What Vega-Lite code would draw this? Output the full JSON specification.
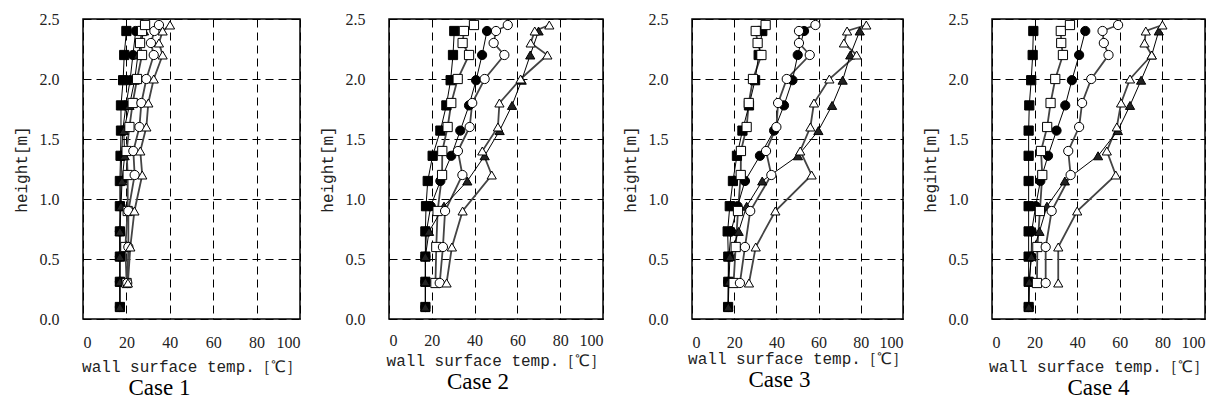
{
  "$schema": "https://vega.github.io/schema/vega-lite/v6.json",
  "background": "white",
  "padding": {"left": 12, "top": 10, "right": 5, "bottom": 5},
  "bounds": "flush",
  "spacing": 89,
  "config": {
    "view": {"stroke": "black", "strokeWidth": 1.5},
    "axis": {
      "ticks": false, "domain": false,
      "grid": true, "gridColor": "black", "gridDash": [8, 5], "gridWidth": 1, "gridOpacity": 1,
      "labelFont": "Liberation Serif", "labelFontSize": 16, "labelColor": "#222",
      "titleFont": "Liberation Mono", "titleFontSize": 16, "titleFontWeight": "normal", "titleColor": "#222"
    },
    "axisX": {"labelPadding": 15, "titlePadding": 8},
    "axisY": {"labelPadding": 24, "titlePadding": 10},
    "title": {"font": "Liberation Serif", "fontSize": 23, "fontWeight": "normal", "color": "black", "orient": "bottom", "offset": 3}
  },
  "datasets": {
    "d": [
      {"c":1,"s":"fs","h":0.1,"t":17},{"c":1,"s":"fs","h":0.31,"t":17},{"c":1,"s":"fs","h":0.52,"t":17},{"c":1,"s":"fs","h":0.73,"t":17},{"c":1,"s":"fs","h":0.94,"t":17},{"c":1,"s":"fs","h":1.15,"t":17},{"c":1,"s":"fs","h":1.36,"t":17.3},{"c":1,"s":"fs","h":1.57,"t":17.5},{"c":1,"s":"fs","h":1.78,"t":17.5},{"c":1,"s":"fs","h":1.99,"t":18.5},{"c":1,"s":"fs","h":2.2,"t":19},{"c":1,"s":"fs","h":2.4,"t":20},
      {"c":1,"s":"fc","h":0.1,"t":17},{"c":1,"s":"fc","h":0.31,"t":17},{"c":1,"s":"fc","h":0.52,"t":17},{"c":1,"s":"fc","h":0.73,"t":17},{"c":1,"s":"fc","h":0.94,"t":17.3},{"c":1,"s":"fc","h":1.15,"t":17.5},{"c":1,"s":"fc","h":1.36,"t":17.8},{"c":1,"s":"fc","h":1.57,"t":18.3},{"c":1,"s":"fc","h":1.78,"t":19.8},{"c":1,"s":"fc","h":1.99,"t":21.7},{"c":1,"s":"fc","h":2.2,"t":23},{"c":1,"s":"fc","h":2.4,"t":24.3},
      {"c":1,"s":"ft","h":0.1,"t":17},{"c":1,"s":"ft","h":0.31,"t":17},{"c":1,"s":"ft","h":0.52,"t":17},{"c":1,"s":"ft","h":0.73,"t":17},{"c":1,"s":"ft","h":0.94,"t":17.5},{"c":1,"s":"ft","h":1.15,"t":18},{"c":1,"s":"ft","h":1.36,"t":19.2},{"c":1,"s":"ft","h":1.57,"t":18.8},{"c":1,"s":"ft","h":1.78,"t":21.4},{"c":1,"s":"ft","h":1.99,"t":23.8},{"c":1,"s":"ft","h":2.2,"t":25.3},{"c":1,"s":"ft","h":2.4,"t":28.1},
      {"c":1,"s":"os","h":0.3,"t":20.1},{"c":1,"s":"os","h":0.6,"t":19.5},{"c":1,"s":"os","h":0.9,"t":20.6},{"c":1,"s":"os","h":1.2,"t":20.6},{"c":1,"s":"os","h":1.4,"t":20.1},{"c":1,"s":"os","h":1.6,"t":21.4},{"c":1,"s":"os","h":1.8,"t":22.9},{"c":1,"s":"os","h":2.0,"t":24.9},{"c":1,"s":"os","h":2.2,"t":27.2},{"c":1,"s":"os","h":2.3,"t":26.3},{"c":1,"s":"os","h":2.4,"t":27.2},{"c":1,"s":"os","h":2.45,"t":28.6},
      {"c":1,"s":"oc","h":0.3,"t":20.4},{"c":1,"s":"oc","h":0.6,"t":20.9},{"c":1,"s":"oc","h":0.9,"t":20.9},{"c":1,"s":"oc","h":1.2,"t":23.8},{"c":1,"s":"oc","h":1.4,"t":23.2},{"c":1,"s":"oc","h":1.6,"t":26},{"c":1,"s":"oc","h":1.8,"t":26.9},{"c":1,"s":"oc","h":2.0,"t":29.2},{"c":1,"s":"oc","h":2.2,"t":32.6},{"c":1,"s":"oc","h":2.3,"t":31.3},{"c":1,"s":"oc","h":2.4,"t":32.9},{"c":1,"s":"oc","h":2.45,"t":35},
      {"c":1,"s":"ot","h":0.3,"t":20.7},{"c":1,"s":"ot","h":0.6,"t":21.8},{"c":1,"s":"ot","h":0.9,"t":23.7},{"c":1,"s":"ot","h":1.2,"t":27.3},{"c":1,"s":"ot","h":1.4,"t":26.4},{"c":1,"s":"ot","h":1.6,"t":29.2},{"c":1,"s":"ot","h":1.8,"t":30.1},{"c":1,"s":"ot","h":2.0,"t":32.6},{"c":1,"s":"ot","h":2.2,"t":36.7},{"c":1,"s":"ot","h":2.3,"t":35},{"c":1,"s":"ot","h":2.4,"t":36.7},{"c":1,"s":"ot","h":2.45,"t":40.1},

      {"c":2,"s":"fs","h":0.1,"t":17},{"c":2,"s":"fs","h":0.31,"t":17},{"c":2,"s":"fs","h":0.52,"t":17},{"c":2,"s":"fs","h":0.73,"t":17},{"c":2,"s":"fs","h":0.94,"t":17.3},{"c":2,"s":"fs","h":1.15,"t":18.1},{"c":2,"s":"fs","h":1.36,"t":20.4},{"c":2,"s":"fs","h":1.57,"t":24},{"c":2,"s":"fs","h":1.78,"t":26.8},{"c":2,"s":"fs","h":1.99,"t":28.8},{"c":2,"s":"fs","h":2.2,"t":29.9},{"c":2,"s":"fs","h":2.4,"t":30.5},
      {"c":2,"s":"fc","h":0.1,"t":17},{"c":2,"s":"fc","h":0.31,"t":17},{"c":2,"s":"fc","h":0.52,"t":17},{"c":2,"s":"fc","h":0.73,"t":17.5},{"c":2,"s":"fc","h":0.94,"t":19.5},{"c":2,"s":"fc","h":1.15,"t":24},{"c":2,"s":"fc","h":1.36,"t":29.1},{"c":2,"s":"fc","h":1.57,"t":33.3},{"c":2,"s":"fc","h":1.78,"t":37.4},{"c":2,"s":"fc","h":1.99,"t":40.7},{"c":2,"s":"fc","h":2.2,"t":43.5},{"c":2,"s":"fc","h":2.4,"t":45.8},
      {"c":2,"s":"ft","h":0.1,"t":17},{"c":2,"s":"ft","h":0.31,"t":17},{"c":2,"s":"ft","h":0.52,"t":17},{"c":2,"s":"ft","h":0.73,"t":18.7},{"c":2,"s":"ft","h":0.94,"t":25.7},{"c":2,"s":"ft","h":1.15,"t":36.6},{"c":2,"s":"ft","h":1.36,"t":44.7},{"c":2,"s":"ft","h":1.57,"t":51.7},{"c":2,"s":"ft","h":1.78,"t":57.5},{"c":2,"s":"ft","h":1.99,"t":62},{"c":2,"s":"ft","h":2.2,"t":66},{"c":2,"s":"ft","h":2.4,"t":69.9},
      {"c":2,"s":"os","h":0.3,"t":21.7},{"c":2,"s":"os","h":0.6,"t":22.1},{"c":2,"s":"os","h":0.9,"t":22.7},{"c":2,"s":"os","h":1.2,"t":24.8},{"c":2,"s":"os","h":1.4,"t":24.9},{"c":2,"s":"os","h":1.6,"t":27.4},{"c":2,"s":"os","h":1.8,"t":29.1},{"c":2,"s":"os","h":2.0,"t":32.1},{"c":2,"s":"os","h":2.2,"t":37.4},{"c":2,"s":"os","h":2.3,"t":34.4},{"c":2,"s":"os","h":2.4,"t":35},{"c":2,"s":"os","h":2.45,"t":39.7},
      {"c":2,"s":"oc","h":0.3,"t":23.7},{"c":2,"s":"oc","h":0.6,"t":25.2},{"c":2,"s":"oc","h":0.9,"t":26.2},{"c":2,"s":"oc","h":1.2,"t":34.3},{"c":2,"s":"oc","h":1.4,"t":32.2},{"c":2,"s":"oc","h":1.6,"t":37.7},{"c":2,"s":"oc","h":1.8,"t":38.9},{"c":2,"s":"oc","h":2.0,"t":44.7},{"c":2,"s":"oc","h":2.2,"t":53.9},{"c":2,"s":"oc","h":2.3,"t":48.9},{"c":2,"s":"oc","h":2.4,"t":50},{"c":2,"s":"oc","h":2.45,"t":55.5},
      {"c":2,"s":"ot","h":0.3,"t":26.9},{"c":2,"s":"ot","h":0.6,"t":29.4},{"c":2,"s":"ot","h":0.9,"t":34.4},{"c":2,"s":"ot","h":1.2,"t":48},{"c":2,"s":"ot","h":1.4,"t":43.6},{"c":2,"s":"ot","h":1.6,"t":50.9},{"c":2,"s":"ot","h":1.8,"t":51.6},{"c":2,"s":"ot","h":2.0,"t":61.5},{"c":2,"s":"ot","h":2.2,"t":74},{"c":2,"s":"ot","h":2.3,"t":66.2},{"c":2,"s":"ot","h":2.4,"t":68.1},{"c":2,"s":"ot","h":2.45,"t":74.9},

      {"c":3,"s":"fs","h":0.1,"t":17.1},{"c":3,"s":"fs","h":0.31,"t":17.2},{"c":3,"s":"fs","h":0.52,"t":17.2},{"c":3,"s":"fs","h":0.73,"t":16.9},{"c":3,"s":"fs","h":0.94,"t":17.9},{"c":3,"s":"fs","h":1.15,"t":19.4},{"c":3,"s":"fs","h":1.36,"t":21.3},{"c":3,"s":"fs","h":1.57,"t":23.9},{"c":3,"s":"fs","h":1.78,"t":27},{"c":3,"s":"fs","h":1.99,"t":29.9},{"c":3,"s":"fs","h":2.2,"t":31.6},{"c":3,"s":"fs","h":2.4,"t":33.3},
      {"c":3,"s":"fc","h":0.1,"t":17.1},{"c":3,"s":"fc","h":0.31,"t":17.2},{"c":3,"s":"fc","h":0.52,"t":17.5},{"c":3,"s":"fc","h":0.73,"t":18.5},{"c":3,"s":"fc","h":0.94,"t":21.6},{"c":3,"s":"fc","h":1.15,"t":25.1},{"c":3,"s":"fc","h":1.36,"t":32.2},{"c":3,"s":"fc","h":1.57,"t":38.9},{"c":3,"s":"fc","h":1.78,"t":43.6},{"c":3,"s":"fc","h":1.99,"t":47.6},{"c":3,"s":"fc","h":2.2,"t":50.1},{"c":3,"s":"fc","h":2.4,"t":53.1},
      {"c":3,"s":"ft","h":0.1,"t":17.2},{"c":3,"s":"ft","h":0.31,"t":17.5},{"c":3,"s":"ft","h":0.52,"t":18},{"c":3,"s":"ft","h":0.73,"t":22.1},{"c":3,"s":"ft","h":0.94,"t":25.9},{"c":3,"s":"ft","h":1.15,"t":33.3},{"c":3,"s":"ft","h":1.36,"t":50.2},{"c":3,"s":"ft","h":1.57,"t":59.9},{"c":3,"s":"ft","h":1.78,"t":66.4},{"c":3,"s":"ft","h":1.99,"t":71.4},{"c":3,"s":"ft","h":2.2,"t":75},{"c":3,"s":"ft","h":2.4,"t":79.5},
      {"c":3,"s":"os","h":0.3,"t":19.7},{"c":3,"s":"os","h":0.6,"t":20.7},{"c":3,"s":"os","h":0.9,"t":21.8},{"c":3,"s":"os","h":1.2,"t":23.1},{"c":3,"s":"os","h":1.4,"t":23.2},{"c":3,"s":"os","h":1.6,"t":25.9},{"c":3,"s":"os","h":1.8,"t":26.9},{"c":3,"s":"os","h":2.0,"t":28.9},{"c":3,"s":"os","h":2.2,"t":32.9},{"c":3,"s":"os","h":2.3,"t":31.1},{"c":3,"s":"os","h":2.4,"t":30.2},{"c":3,"s":"os","h":2.45,"t":34.9},
      {"c":3,"s":"oc","h":0.3,"t":22.7},{"c":3,"s":"oc","h":0.6,"t":25.1},{"c":3,"s":"oc","h":0.9,"t":27.6},{"c":3,"s":"oc","h":1.2,"t":37.6},{"c":3,"s":"oc","h":1.4,"t":35.1},{"c":3,"s":"oc","h":1.6,"t":40},{"c":3,"s":"oc","h":1.8,"t":40.8},{"c":3,"s":"oc","h":2.0,"t":44.9},{"c":3,"s":"oc","h":2.2,"t":55.8},{"c":3,"s":"oc","h":2.3,"t":50.7},{"c":3,"s":"oc","h":2.4,"t":50.7},{"c":3,"s":"oc","h":2.45,"t":58.5},
      {"c":3,"s":"ot","h":0.3,"t":27},{"c":3,"s":"ot","h":0.6,"t":30.2},{"c":3,"s":"ot","h":0.9,"t":39.5},{"c":3,"s":"ot","h":1.2,"t":56.7},{"c":3,"s":"ot","h":1.4,"t":51.3},{"c":3,"s":"ot","h":1.6,"t":56.1},{"c":3,"s":"ot","h":1.8,"t":57.8},{"c":3,"s":"ot","h":2.0,"t":65.1},{"c":3,"s":"ot","h":2.2,"t":78},{"c":3,"s":"ot","h":2.3,"t":72},{"c":3,"s":"ot","h":2.4,"t":73.5},{"c":3,"s":"ot","h":2.45,"t":82.6},

      {"c":4,"s":"fs","h":0.1,"t":17.2},{"c":4,"s":"fs","h":0.31,"t":17.2},{"c":4,"s":"fs","h":0.52,"t":17.2},{"c":4,"s":"fs","h":0.73,"t":17.2},{"c":4,"s":"fs","h":0.94,"t":17.2},{"c":4,"s":"fs","h":1.15,"t":17.2},{"c":4,"s":"fs","h":1.36,"t":17.2},{"c":4,"s":"fs","h":1.57,"t":17.2},{"c":4,"s":"fs","h":1.78,"t":17.5},{"c":4,"s":"fs","h":1.99,"t":18.4},{"c":4,"s":"fs","h":2.2,"t":19.1},{"c":4,"s":"fs","h":2.4,"t":19.4},
      {"c":4,"s":"fc","h":0.1,"t":17.3},{"c":4,"s":"fc","h":0.31,"t":17.5},{"c":4,"s":"fc","h":0.52,"t":18.4},{"c":4,"s":"fc","h":0.73,"t":18.6},{"c":4,"s":"fc","h":0.94,"t":20.5},{"c":4,"s":"fc","h":1.15,"t":22.7},{"c":4,"s":"fc","h":1.36,"t":26.3},{"c":4,"s":"fc","h":1.57,"t":30.3},{"c":4,"s":"fc","h":1.78,"t":34.4},{"c":4,"s":"fc","h":1.99,"t":37.5},{"c":4,"s":"fc","h":2.2,"t":40.9},{"c":4,"s":"fc","h":2.4,"t":43.8},
      {"c":4,"s":"ft","h":0.1,"t":17.3},{"c":4,"s":"ft","h":0.31,"t":17.5},{"c":4,"s":"ft","h":0.52,"t":18.5},{"c":4,"s":"ft","h":0.73,"t":22.3},{"c":4,"s":"ft","h":0.94,"t":25.8},{"c":4,"s":"ft","h":1.15,"t":34.2},{"c":4,"s":"ft","h":1.36,"t":49.8},{"c":4,"s":"ft","h":1.57,"t":59.1},{"c":4,"s":"ft","h":1.78,"t":64.8},{"c":4,"s":"ft","h":1.99,"t":70},{"c":4,"s":"ft","h":2.2,"t":75},{"c":4,"s":"ft","h":2.4,"t":78.3},
      {"c":4,"s":"os","h":0.3,"t":21.1},{"c":4,"s":"os","h":0.6,"t":21.3},{"c":4,"s":"os","h":0.9,"t":22.5},{"c":4,"s":"os","h":1.2,"t":23.6},{"c":4,"s":"os","h":1.4,"t":23},{"c":4,"s":"os","h":1.6,"t":25.9},{"c":4,"s":"os","h":1.8,"t":27.5},{"c":4,"s":"os","h":2.0,"t":29.7},{"c":4,"s":"os","h":2.2,"t":33.3},{"c":4,"s":"os","h":2.3,"t":32.5},{"c":4,"s":"os","h":2.4,"t":32.3},{"c":4,"s":"os","h":2.45,"t":36.6},
      {"c":4,"s":"oc","h":0.3,"t":25.2},{"c":4,"s":"oc","h":0.6,"t":25.2},{"c":4,"s":"oc","h":0.9,"t":28},{"c":4,"s":"oc","h":1.2,"t":36.9},{"c":4,"s":"oc","h":1.4,"t":35.8},{"c":4,"s":"oc","h":1.6,"t":40.9},{"c":4,"s":"oc","h":1.8,"t":42.3},{"c":4,"s":"oc","h":2.0,"t":46.6},{"c":4,"s":"oc","h":2.2,"t":54.7},{"c":4,"s":"oc","h":2.3,"t":52.5},{"c":4,"s":"oc","h":2.4,"t":51.9},{"c":4,"s":"oc","h":2.45,"t":59.2},
      {"c":4,"s":"ot","h":0.3,"t":31.1},{"c":4,"s":"ot","h":0.6,"t":31.1},{"c":4,"s":"ot","h":0.9,"t":40},{"c":4,"s":"ot","h":1.2,"t":58.1},{"c":4,"s":"ot","h":1.4,"t":53.9},{"c":4,"s":"ot","h":1.6,"t":58.6},{"c":4,"s":"ot","h":1.8,"t":60.6},{"c":4,"s":"ot","h":2.0,"t":64.8},{"c":4,"s":"ot","h":2.2,"t":75},{"c":4,"s":"ot","h":2.3,"t":71.6},{"c":4,"s":"ot","h":2.4,"t":72.2},{"c":4,"s":"ot","h":2.45,"t":80}
    ]
  },
  "data": {"name": "d"},
  "hconcat": [
    {
      "width": 217, "height": 300,
      "title": {"text": "Case 1", "dx": -32},
      "transform": [{"filter": "datum.c == 1"}],
      "encoding": {
        "x": {"field": "t", "type": "quantitative", "scale": {"domain": [0, 100], "nice": false}, "axis": {"values": [0, 20, 40, 60, 80, 100], "title": "wall surface temp.［℃］"}},
        "y": {"field": "h", "type": "quantitative", "scale": {"domain": [0, 2.5], "nice": false}, "axis": {"values": [0, 0.5, 1, 1.5, 2, 2.5], "format": ".1f", "title": "height[m]"}}
      },
      "layer": [
        {"transform": [{"filter": "datum.s == 'os' || datum.s == 'oc' || datum.s == 'ot'"}], "mark": {"type": "line", "stroke": "#444", "strokeWidth": 1.8}, "encoding": {"detail": {"field": "s"}, "order": {"field": "h"}}},
        {"transform": [{"filter": "datum.s == 'fs' || datum.s == 'fc' || datum.s == 'ft'"}], "mark": {"type": "line", "stroke": "black", "strokeWidth": 1}, "encoding": {"detail": {"field": "s"}, "order": {"field": "h"}}},
        {"mark": {"type": "point", "filled": true, "stroke": "black", "strokeWidth": 1, "size": 85, "opacity": 1},
         "encoding": {
           "shape": {"field": "s", "scale": {"domain": ["os", "oc", "ot", "fs", "fc", "ft"], "range": ["square", "circle", "triangle-up", "square", "circle", "triangle-up"]}, "legend": null},
           "fill": {"field": "s", "scale": {"domain": ["os", "oc", "ot", "fs", "fc", "ft"], "range": ["white", "white", "white", "black", "black", "#222"]}, "legend": null}
         }}
      ]
    },
    {
      "width": 214, "height": 300,
      "title": {"text": "Case 2", "dx": -18},
      "transform": [{"filter": "datum.c == 2"}],
      "encoding": {
        "x": {"field": "t", "type": "quantitative", "scale": {"domain": [0, 100], "nice": false}, "axis": {"values": [0, 20, 40, 60, 80, 100], "title": "wall surface temp.［℃］", "labelPadding": 13, "titlePadding": 4}},
        "y": {"field": "h", "type": "quantitative", "scale": {"domain": [0, 2.5], "nice": false}, "axis": {"values": [0, 0.5, 1, 1.5, 2, 2.5], "format": ".1f", "title": "height[m]"}}
      },
      "layer": [
        {"transform": [{"filter": "datum.s == 'os' || datum.s == 'oc' || datum.s == 'ot'"}], "mark": {"type": "line", "stroke": "#444", "strokeWidth": 1.8}, "encoding": {"detail": {"field": "s"}, "order": {"field": "h"}}},
        {"transform": [{"filter": "datum.s == 'fs' || datum.s == 'fc' || datum.s == 'ft'"}], "mark": {"type": "line", "stroke": "black", "strokeWidth": 1}, "encoding": {"detail": {"field": "s"}, "order": {"field": "h"}}},
        {"mark": {"type": "point", "filled": true, "stroke": "black", "strokeWidth": 1, "size": 85, "opacity": 1},
         "encoding": {
           "shape": {"field": "s", "scale": {"domain": ["os", "oc", "ot", "fs", "fc", "ft"], "range": ["square", "circle", "triangle-up", "square", "circle", "triangle-up"]}, "legend": null},
           "fill": {"field": "s", "scale": {"domain": ["os", "oc", "ot", "fs", "fc", "ft"], "range": ["white", "white", "white", "black", "black", "#333"]}, "legend": null}
         }}
      ]
    },
    {
      "width": 211, "height": 300,
      "title": {"text": "Case 3", "dx": -18},
      "transform": [{"filter": "datum.c == 3"}],
      "encoding": {
        "x": {"field": "t", "type": "quantitative", "scale": {"domain": [0, 100], "nice": false}, "axis": {"values": [0, 20, 40, 60, 80, 100], "title": "wall surface temp.［℃］", "labelPadding": 15, "titlePadding": 0}},
        "y": {"field": "h", "type": "quantitative", "scale": {"domain": [0, 2.5], "nice": false}, "axis": {"values": [0, 0.5, 1, 1.5, 2, 2.5], "format": ".1f", "title": "height[m]"}}
      },
      "layer": [
        {"transform": [{"filter": "datum.s == 'os' || datum.s == 'oc' || datum.s == 'ot'"}], "mark": {"type": "line", "stroke": "#444", "strokeWidth": 1.8}, "encoding": {"detail": {"field": "s"}, "order": {"field": "h"}}},
        {"transform": [{"filter": "datum.s == 'fs' || datum.s == 'fc' || datum.s == 'ft'"}], "mark": {"type": "line", "stroke": "black", "strokeWidth": 1}, "encoding": {"detail": {"field": "s"}, "order": {"field": "h"}}},
        {"mark": {"type": "point", "filled": true, "stroke": "black", "strokeWidth": 1, "size": 85, "opacity": 1},
         "encoding": {
           "shape": {"field": "s", "scale": {"domain": ["os", "oc", "ot", "fs", "fc", "ft"], "range": ["square", "circle", "triangle-up", "square", "circle", "triangle-up"]}, "legend": null},
           "fill": {"field": "s", "scale": {"domain": ["os", "oc", "ot", "fs", "fc", "ft"], "range": ["white", "white", "white", "black", "black", "#111"]}, "legend": null}
         }}
      ]
    },
    {
      "width": 213, "height": 300,
      "title": {"text": "Case 4", "dx": 0},
      "transform": [{"filter": "datum.c == 4"}],
      "encoding": {
        "x": {"field": "t", "type": "quantitative", "scale": {"domain": [0, 100], "nice": false}, "axis": {"values": [0, 20, 40, 60, 80, 100], "title": "wall surface temp.［℃］"}},
        "y": {"field": "h", "type": "quantitative", "scale": {"domain": [0, 2.5], "nice": false}, "axis": {"values": [0, 0.5, 1, 1.5, 2, 2.5], "format": ".1f", "title": "hegiht[m]"}}
      },
      "layer": [
        {"transform": [{"filter": "datum.s == 'os' || datum.s == 'oc' || datum.s == 'ot'"}], "mark": {"type": "line", "stroke": "#444", "strokeWidth": 1.8}, "encoding": {"detail": {"field": "s"}, "order": {"field": "h"}}},
        {"transform": [{"filter": "datum.s == 'fs' || datum.s == 'fc' || datum.s == 'ft'"}], "mark": {"type": "line", "stroke": "black", "strokeWidth": 1}, "encoding": {"detail": {"field": "s"}, "order": {"field": "h"}}},
        {"mark": {"type": "point", "filled": true, "stroke": "black", "strokeWidth": 1, "size": 85, "opacity": 1},
         "encoding": {
           "shape": {"field": "s", "scale": {"domain": ["os", "oc", "ot", "fs", "fc", "ft"], "range": ["square", "circle", "triangle-up", "square", "circle", "triangle-up"]}, "legend": null},
           "fill": {"field": "s", "scale": {"domain": ["os", "oc", "ot", "fs", "fc", "ft"], "range": ["white", "white", "white", "black", "black", "#111"]}, "legend": null}
         }}
      ]
    }
  ]
}
